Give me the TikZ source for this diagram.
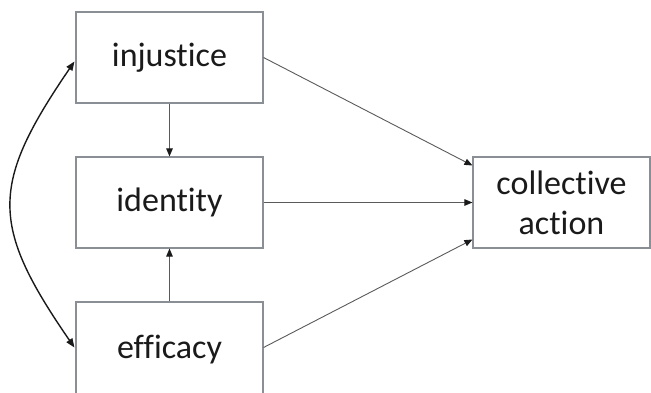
\documentclass[tikz,border=0pt]{standalone}
\usepackage{fontspec}
\setmainfont{Carlito}[Ligatures=CommonOff]
\usetikzlibrary{arrows.meta,calc}
\definecolor{boxline}{HTML}{8A8F96}
\definecolor{pathline}{HTML}{5A5A5A}
\definecolor{ink}{HTML}{1A1A1A}
\begin{document}
\begin{tikzpicture}[x=1pt,y=-1pt,
  varbox/.style={draw=boxline, line width=1.1pt, fill=white, minimum width=187pt,
    minimum height=91pt, inner sep=0pt, font=\fontsize{34}{40}\selectfont,
    text=ink, align=center},
  path arrow/.style={draw=pathline, line width=0.9pt,
    -{Triangle[length=8pt,width=6.5pt,fill=ink,color=ink]}},
  cov arrow/.style={draw=ink, line width=1.4pt,
    {Triangle[length=9pt,width=7pt]}-{Triangle[length=9pt,width=7pt]}}]
  \useasboundingbox (0,0) rectangle (651,392);

  % variables
  \node[varbox] (inj) at (169.5,57.5) {injustice};
  \node[varbox] (idn) at (169.5,202.5) {identity};
  \node[varbox, minimum height=95pt] (eff) at (169.5,349.5) {efficacy};
  \node[varbox, minimum width=177pt] (col) at (561.5,202.5) {collective\\action};

  % ends of the paths into the outcome
  \coordinate (colA) at ($(col.west)+(0,-37)$);
  \coordinate (colC) at ($(col.west)+(0,37)$);
  \coordinate (effR) at ($(eff.east)+(0,-2)$);
  \coordinate (covT) at ($(inj.west)+(-1,4)$);
  \coordinate (covB) at ($(eff.west)+(-1,-2)$);

  % direct and mediated paths
  \draw[path arrow] (inj.south) -- (idn.north);
  \draw[path arrow] (eff.north) -- (idn.south);
  \draw[path arrow] (inj.east) -- (colA);
  \draw[path arrow] (idn.east) -- (col.west);
  \draw[path arrow] (effR) -- (colC);

  % covariance between injustice and efficacy
  \draw[cov arrow] (covT) .. controls (-10,185) and (-10,225) .. (covB);
\end{tikzpicture}
\end{document}
